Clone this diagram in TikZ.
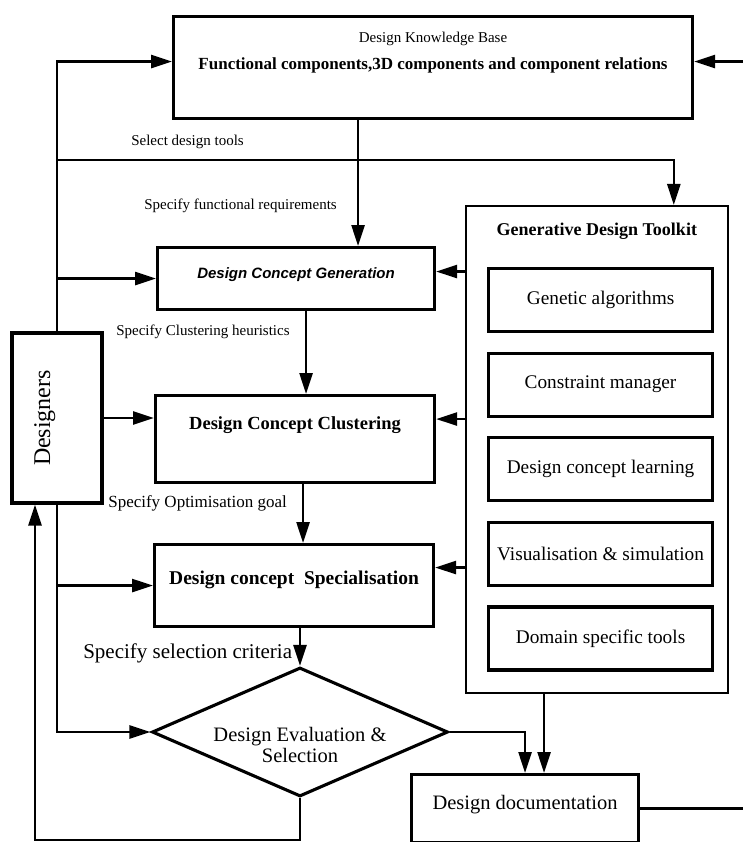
\documentclass[tikz,border=0pt]{standalone}
\usepackage{fontspec}
\setmainfont{Liberation Serif}
\setsansfont{Liberation Sans}
\usetikzlibrary{arrows.meta, positioning, shapes.geometric}

\begin{document}
\begin{tikzpicture}[
  x=1pt, y=-1pt,
  node distance=18.5pt,
  line width=2.6pt,
  box/.style={draw, line width=3.1pt, inner sep=0pt},
  tool/.style={box, minimum width=224pt, minimum height=63pt,
               font=\fontsize{19.3}{22}\selectfont},
  lbl/.style={inner sep=0pt, anchor=west, font=\fontsize{15}{18}\selectfont},
  >={Triangle[length=21pt, width=13pt]}
]
\useasboundingbox (0,0) rectangle (743,842);

\node[box, anchor=north west, minimum width=519pt, text height=53pt, text depth=49pt,
      font=\bfseries\fontsize{17}{20}\selectfont,
      label={[font=\fontsize{15}{18}\selectfont, anchor=base, yshift=-28pt]north:Design Knowledge Base}]
  (kb) at (172,15) {Functional components,3D components and component relations};
\node[box, anchor=north west, minimum width=277pt, text height=31pt, text depth=31pt,
      font=\sffamily\bfseries\itshape\fontsize{15}{18}\selectfont]
  (gen) at (156,246) {Design Concept Generation};
\node[box, anchor=north west, minimum width=279pt, text height=34pt, text depth=53pt,
      font=\bfseries\fontsize{18.5}{22}\selectfont]
  (clust) at (154,394) {Design Concept Clustering};
\node[box, anchor=north west, minimum width=279pt, text height=40pt, text depth=42pt,
      font=\bfseries\fontsize{19.5}{23}\selectfont]
  (spec) at (153,543) {Design concept~~Specialisation};
\node[draw, diamond, aspect=2.3, inner sep=0pt, line width=3.1pt,
      minimum width=296pt, minimum height=129pt,
      label={[align=center, font=\fontsize{20.5}{21}\selectfont, yshift=-13pt]center:Design Evaluation \&\\Selection}]
  (eval) at (300,732) {};
\node[box, anchor=north west, minimum width=227pt, text height=35pt, text depth=33pt,
      font=\fontsize{20.5}{24}\selectfont]
  (doc) at (410,773) {Design documentation};
\node[box, rotate=90, minimum width=170pt, text height=38pt, text depth=52pt,
      font=\fontsize{24}{28}\selectfont]
  (des) at (57,418) {Designers};

\node[box, line width=1.6pt, anchor=north west, minimum width=262pt,
      text height=30pt, text depth=457pt, font=\bfseries\fontsize{18}{21}\selectfont]
  (tk) at (465,205) {Generative Design Toolkit};
\node[tool, anchor=north west] (ga) at (487,267) {Genetic algorithms};
\node[tool, below=of ga] (cm) {Constraint manager};
\node[tool, below=of cm] (dcl) {Design concept learning};
\node[tool, below=of dcl] (vis) {Visualisation \& simulation};
\node[tool, below=of vis] (dst) {Domain specific tools};

\node[lbl] (seltxt) at (130,142) {Select design tools};
\node[lbl] (fr) at (143,206) {Specify functional requirements};
\node[lbl] (ch) at (115,332) {Specify Clustering heuristics};
\node[lbl, font=\fontsize{17}{20}\selectfont] (og) at (107,503) {Specify Optimisation goal};
\node[lbl, font=\fontsize{21}{24}\selectfont] (sc) at (82,653) {Specify selection criteria};

\coordinate (sel) at (57,160);
\coordinate (fb) at (35,840);
\coordinate (ret) at (770,0);

\draw[->] (des.east) |- ([yshift=6pt]kb.west);
\draw[->] (sel) -| ([xshift=77pt]tk.north);
\draw[->] ([xshift=-75pt]kb.south) -- ([xshift=-75pt]kb.south |- gen.north);
\draw[->] (des.east |- gen.west) -- (gen.west);
\draw[->] (des.south) -- (des.south -| clust.west);
\draw[->] (des.west |- spec.west) -- (spec.west);
\draw[->] (des.west) |- (eval.west);
\draw[->] ([yshift=7pt]gen.east -| tk.west) -- ([yshift=7pt]gen.east);
\draw[->] ([yshift=20pt]clust.east -| tk.west) -- ([yshift=20pt]clust.east);
\draw[->] ([yshift=18pt]spec.east -| tk.west) -- ([yshift=18pt]spec.east);
\draw[->] ([xshift=10pt]gen.south) -- ([xshift=10pt]gen.south |- clust.north);
\draw[->] ([xshift=8pt]clust.south) -- ([xshift=8pt]clust.south |- spec.north);
\draw[->] (spec.south -| eval.north) -- (eval.north);
\draw[->] (eval.east) -| (doc.north);
\draw[->] ([xshift=19pt]doc.north |- tk.south) -- ([xshift=19pt]doc.north);
\draw[->] (eval.south) |- (fb) -- (fb |- des.west);
\draw[->] (doc.east) -- (doc.east -| ret) |- ([yshift=6pt]kb.east);
\end{tikzpicture}
\end{document}
